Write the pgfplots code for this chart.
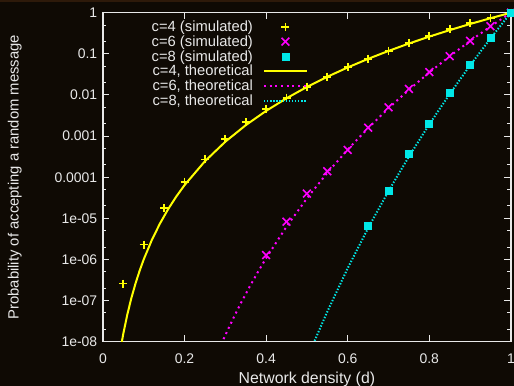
\documentclass[border=0pt]{standalone}
\usepackage{fontspec}
\setmainfont{Liberation Sans}
\usepackage{pgfplots}
\pgfplotsset{compat=1.18}
\definecolor{bg}{HTML}{0F0A04}
\definecolor{strip}{HTML}{2E1A0A}
\definecolor{fg}{HTML}{E8E8E8}
\definecolor{cy}{HTML}{00E8E8}
\definecolor{mg}{HTML}{FF00FF}
\definecolor{yl}{HTML}{FFFF00}
\begin{document}
\begin{tikzpicture}
\fill[bg] (0bp,0bp) rectangle (514bp,386bp);
\fill[strip] (0bp,384bp) rectangle (514bp,386bp);
\begin{axis}[
  at={(102.9bp,44.3bp)}, anchor=south west,
  width=408bp, height=329bp, scale only axis,
  xmin=0, xmax=1, ymode=log, ymin=1e-8, ymax=1,
  font=\fontsize{14}{16}\selectfont,
  /pgf/number format/assume math mode=true,
  axis line style={fg, line width=1.3bp},
  tick style={fg, line width=1bp},
  major tick length=6.5bp, minor tick length=3.5bp,
  tick align=inside,
  xtick={0,0.2,0.4,0.6,0.8,1},
  xticklabels={0,0.2,0.4,0.6,0.8,1},
  ytick={1e-8,1e-7,1e-6,1e-5,1e-4,1e-3,1e-2,1e-1,1},
  yticklabels={1e-08,1e-07,1e-06,1e-05,0.0001,0.001,0.01,0.1,1},
  minor ytick={2e-8,5e-8,2e-7,5e-7,2e-6,5e-6,2e-5,5e-5,2e-4,5e-4,2e-3,5e-3,0.02,0.05,0.2,0.5},
  xticklabel style={fg, inner sep=0pt, anchor=north, yshift=-11.5bp},
  yticklabel style={fg, inner sep=0pt, anchor=east, xshift=-5.5bp},
  xlabel={Network density (d)},
  ylabel={Probability of accepting a random message},
  xlabel style={fg, font=\fontsize{15.9}{18}\selectfont, at={(axis description cs:0.5,0)}, anchor=north, inner sep=0pt, yshift=-30.5bp},
  ylabel style={fg, font=\fontsize{14.9}{17}\selectfont, at={(axis description cs:-0.1985,0.5)}, anchor=south, inner sep=0pt},
  legend plot pos=right,
  legend cell align=right,
  legend image code/.code={\draw[mark repeat=2,mark phase=2,#1] plot coordinates {(0bp,0bp) (21.5bp,0bp) (43bp,0bp)};},
  legend style={at={(axis description cs:0.503,0.709)}, anchor=south east,
    draw=none, fill=none, text=fg, inner sep=0pt, column sep=10bp, row sep=0pt,
    nodes={inner sep=0pt, minimum height=14.8bp},
    font=\fontsize{14.8}{17}\selectfont},
]
\addplot[only marks, color=yl, mark=+, mark size=4bp, line width=1.8bp, mark options={draw=yl, line width=1.8bp}] coordinates {
(0.05,2.6e-7) (0.1,2.3e-6) (0.15,1.75e-5) (0.2,7.8e-5) (0.25,2.7e-4)
(0.3,8.4e-4) (0.35,2.16e-3) (0.4,4.6e-3) (0.45,8.6e-3) (0.5,0.0159)
(0.55,0.0278) (0.6,0.047) (0.65,0.076) (0.7,0.119) (0.75,0.186)
(0.8,0.276) (0.85,0.395) (0.9,0.552) (0.95,0.756) (1.0,1)
};
\addlegendentry{c=4 (simulated)}
\addplot[only marks, color=mg, mark=x, mark size=5.5bp, line width=1.6bp, mark options={draw=mg}] coordinates {
(0.4,1.28e-6) (0.45,8.3e-6) (0.5,4.0e-5) (0.55,1.4e-4) (0.6,4.6e-4)
(0.65,1.6e-3) (0.7,5.0e-3) (0.75,0.014) (0.8,0.036) (0.85,0.088)
(0.9,0.207) (0.95,0.47) (1.0,1)
};
\addlegendentry{c=6 (simulated)}
\addplot[only marks, color=cy, mark=square*, mark size=3.5bp, line width=0.8bp, mark options={draw=cy, fill=cy}] coordinates {
(0.65,6.5e-6) (0.7,4.6e-5) (0.75,3.6e-4) (0.8,2.0e-3) (0.85,0.011)
(0.9,0.053) (0.95,0.245) (1.0,1)
};
\addlegendentry{c=8 (simulated)}
\addplot[yl, line width=2bp, no marks] coordinates {
(0.04,4.096e-9) (0.045,8.30e-9) (0.05,1.5625e-8) (0.06,4.666e-8) (0.07,1.1765e-7)
(0.08,2.6214e-7) (0.09,5.3144e-7) (0.1,1e-6) (0.12,2.986e-6) (0.14,7.530e-6)
(0.16,1.678e-5) (0.18,3.401e-5) (0.2,6.4e-5) (0.25,2.441e-4) (0.3,7.29e-4)
(0.35,1.838e-3) (0.4,4.096e-3) (0.45,8.304e-3) (0.5,0.015625) (0.55,0.02768)
(0.6,0.046656) (0.65,0.07542) (0.7,0.117649) (0.75,0.17798) (0.8,0.262144)
(0.85,0.37715) (0.9,0.531441) (0.95,0.73509) (1.0,1)
};
\addlegendentry{c=4, theoretical}
\addplot[mg, line width=2bp, dash pattern=on 2bp off 3.7bp, no marks] coordinates {
(0.29,8.63e-9) (0.3,1.435e-8) (0.32,3.777e-8) (0.34,9.38e-8) (0.36,2.211e-7)
(0.38,4.973e-7) (0.4,1.074e-6) (0.45,6.28e-6) (0.5,3.052e-5) (0.55,1.274e-4)
(0.6,4.70e-4) (0.65,1.562e-3) (0.7,4.748e-3) (0.75,0.01336) (0.8,0.03518)
(0.85,0.08735) (0.9,0.2059) (0.95,0.4633) (1.0,1)
};
\addlegendentry{c=6, theoretical}
\addplot[cy, line width=2bp, dash pattern=on 1.4bp off 1.7bp, no marks] coordinates {
(0.51,6.49e-9) (0.52,1.117e-8) (0.55,5.373e-8) (0.6,6.14e-7) (0.65,5.776e-6)
(0.7,4.600e-5) (0.75,3.175e-4) (0.8,1.934e-3) (0.85,0.01056) (0.9,0.05233)
(0.95,0.2378) (1.0,1)
};
\addlegendentry{c=8, theoretical}
\end{axis}
\pgfresetboundingbox
\path[use as bounding box] (0bp,0bp) rectangle (514bp,386bp);
\end{tikzpicture}
\end{document}
